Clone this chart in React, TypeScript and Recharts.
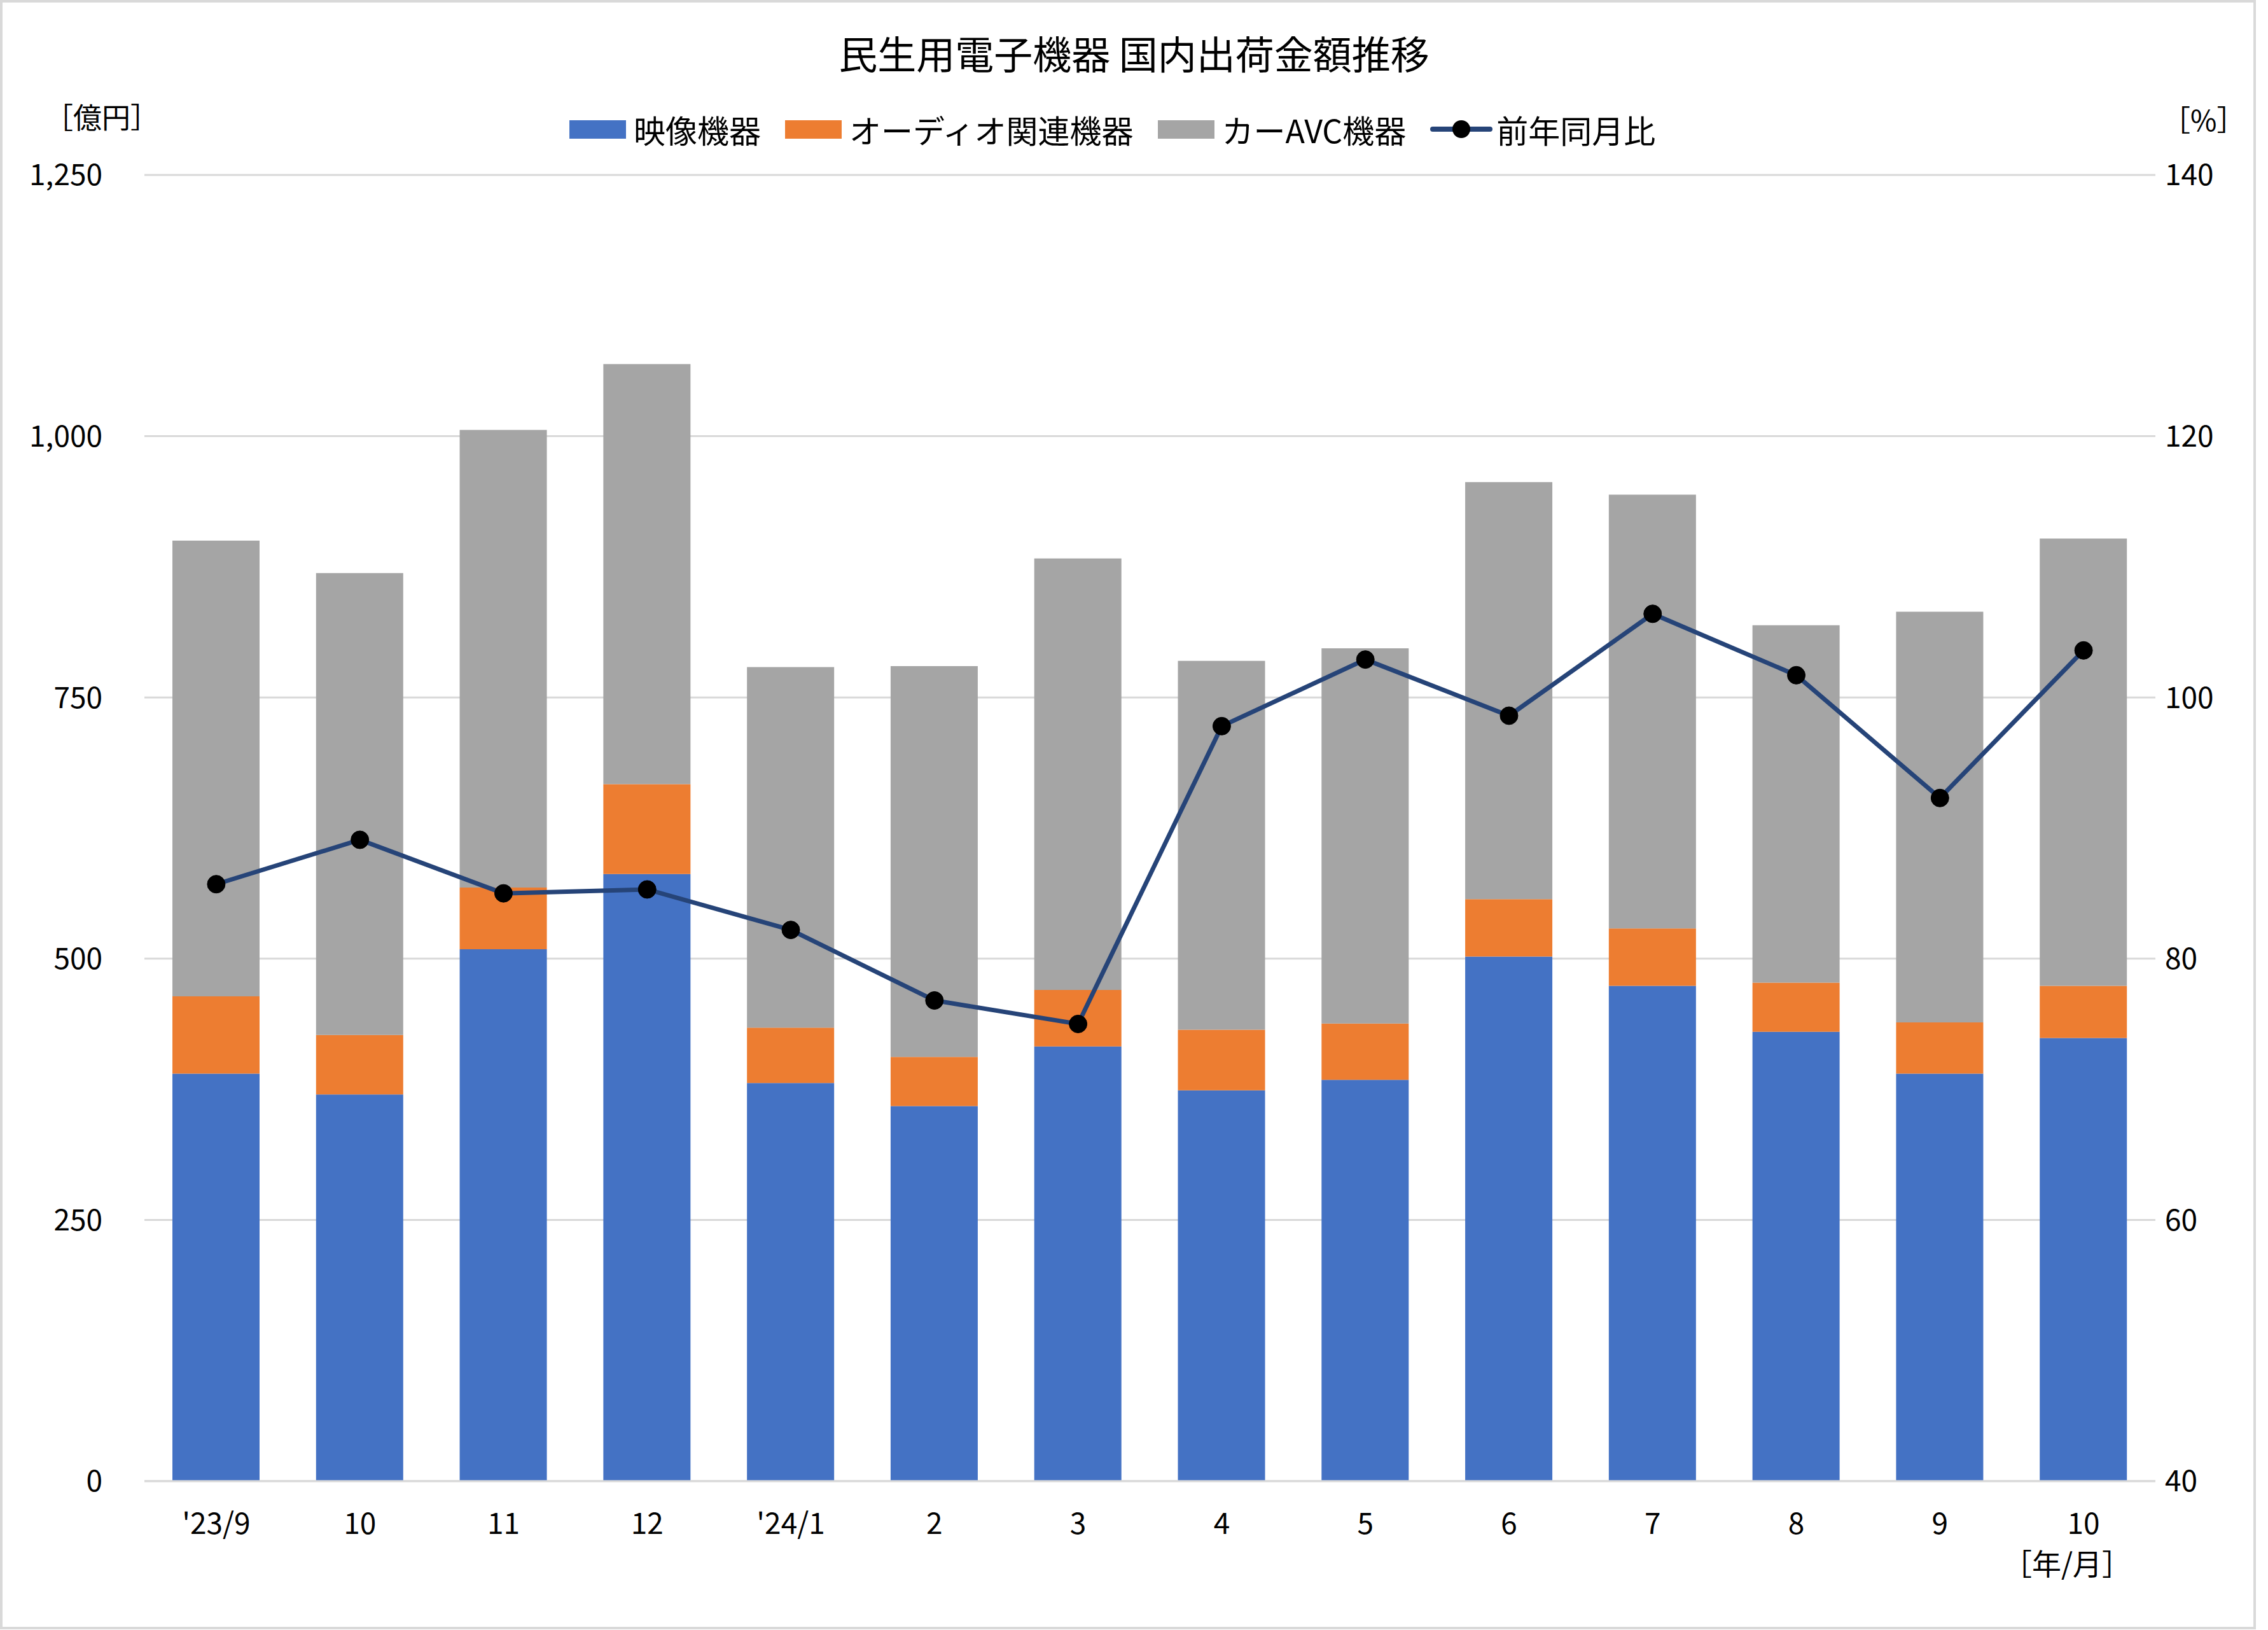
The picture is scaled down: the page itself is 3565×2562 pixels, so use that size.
import React from 'react';
import { ComposedChart, Bar, Line, XAxis, YAxis, CartesianGrid } from 'recharts';

const categories = ["'23/9", '10', '11', '12', "'24/1", '2', '3', '4', '5', '6', '7', '8', '9', '10'];
const videoValues = [390, 370, 509, 581, 381, 359, 416, 374, 384, 502, 474, 430, 390, 424];
const audioValues = [74, 57, 59, 86, 53, 47, 54, 58, 54, 55, 55, 47, 49, 50];
const carAvcValues = [436, 442, 438, 402, 345, 374, 413, 353, 359, 399, 415, 342, 393, 428];
const yoyValues = [85.7, 89.1, 85.0, 85.3, 82.2, 76.8, 75.0, 97.8, 102.9, 98.6, 106.4, 101.7, 92.3, 103.6];
const leftTicks = [0, 250, 500, 750, 1000, 1250];
const rightTicks = [40, 60, 80, 100, 120, 140];

const seriesNames = {
  video: '映像機器',
  audio: 'オーディオ関連機器',
  car: 'カーAVC機器',
  yoy: '前年同月比',
};

const data = categories.map((c, i) => ({
  month: c,
  video: videoValues[i],
  audio: audioValues[i],
  car: carAvcValues[i],
  yoy: yoyValues[i],
}));

const FONT = '"Noto Sans CJK JP", "Noto Sans", sans-serif';
const BLUE = '#4472C4';
const ORANGE = '#ED7D31';
const GRAY = '#A5A5A5';
const NAVY = '#264478';
const GRID = '#D9D9D9';

const W = 3565;
const H = 2562;

const textBase: React.CSSProperties = {
  position: 'absolute',
  fontFamily: FONT,
  color: '#000',
  lineHeight: 1,
  whiteSpace: 'nowrap',
};

function LegendItem({ color, label, line }: { color: string; label: string; line?: boolean }) {
  return (
    <div style={{ display: 'flex', alignItems: 'center', marginRight: 38 }}>
      {line ? (
        <svg width={98} height={30} style={{ marginRight: 6 }}>
          <line x1={4} y1={15} x2={94} y2={15} stroke={color} strokeWidth={8} strokeLinecap="round" />
          <circle cx={49} cy={15} r={14} fill="#000" />
        </svg>
      ) : (
        <div style={{ width: 89, height: 29, background: color, marginRight: 12 }} />
      )}
      <span style={{ fontSize: 50, fontFamily: FONT, color: '#000', lineHeight: 1 }}>{label}</span>
    </div>
  );
}

export default function App() {
  return (
    <div style={{ position: 'absolute', left: 0, top: 0, width: W, height: H, background: '#fff', overflow: 'hidden' }}>
      <ComposedChart
        width={W}
        height={H}
        data={data}
        margin={{ top: 275, right: 77, bottom: 134, left: 127 }}
        barSize={137}
      >
        <CartesianGrid yAxisId="left" vertical={false} stroke={GRID} strokeWidth={3} />
        <XAxis
          dataKey="month"
          height={100}
          tickLine={false}
          tickSize={0}
          tickMargin={50}
          axisLine={{ stroke: GRID, strokeWidth: 3 }}
          tick={{ fontSize: 46, fill: '#000', fontFamily: FONT }}
          interval={0}
        />
        <YAxis
          yAxisId="left"
          orientation="left"
          width={100}
          domain={[0, 1250]}
          ticks={leftTicks}
          axisLine={false}
          tickLine={false}
          tickSize={0}
          tickMargin={66}
          tickFormatter={(v: number) => v.toLocaleString('en-US')}
          tick={{ fontSize: 46, fill: '#000', fontFamily: FONT }}
        />
        <YAxis
          yAxisId="right"
          orientation="right"
          width={100}
          domain={[40, 140]}
          ticks={rightTicks}
          axisLine={false}
          tickLine={false}
          tickSize={0}
          tickMargin={15}
          tick={{ fontSize: 46, fill: '#000', fontFamily: FONT }}
        />
        <Bar yAxisId="left" dataKey="video" name={seriesNames.video} stackId="a" fill={BLUE} isAnimationActive={false} />
        <Bar yAxisId="left" dataKey="audio" name={seriesNames.audio} stackId="a" fill={ORANGE} isAnimationActive={false} />
        <Bar yAxisId="left" dataKey="car" name={seriesNames.car} stackId="a" fill={GRAY} isAnimationActive={false} />
        <Line
          yAxisId="right"
          dataKey="yoy"
          name={seriesNames.yoy}
          stroke={NAVY}
          strokeWidth={7}
          dot={{ r: 14, fill: '#000', stroke: '#000', strokeWidth: 1 }}
          activeDot={false}
          isAnimationActive={false}
        />
      </ComposedChart>

      <div style={{ ...textBase, top: 52, left: 0, width: W, textAlign: 'center', fontSize: 61 }}>
        民生用電子機器 国内出荷金額推移
      </div>

      <div style={{ position: 'absolute', top: 173, left: 895, display: 'flex', alignItems: 'center', height: 60 }}>
        <LegendItem color={BLUE} label={seriesNames.video} />
        <LegendItem color={ORANGE} label={seriesNames.audio} />
        <LegendItem color={GRAY} label={seriesNames.car} />
        <LegendItem color={NAVY} label={seriesNames.yoy} line />
      </div>

      <div style={{ ...textBase, top: 160, left: 70, fontSize: 45 }}>［億円］</div>
      <div style={{ ...textBase, top: 164, left: 3398, fontSize: 45 }}>［%］</div>
      <div style={{ ...textBase, top: 2432, left: 3148, fontSize: 46 }}>［年/月］</div>

      <div
        style={{
          position: 'absolute',
          left: 0,
          top: 0,
          width: 3546,
          height: 2561,
          border: `4px solid ${GRID}`,
          boxSizing: 'border-box',
          pointerEvents: 'none',
        }}
      />
    </div>
  );
}
